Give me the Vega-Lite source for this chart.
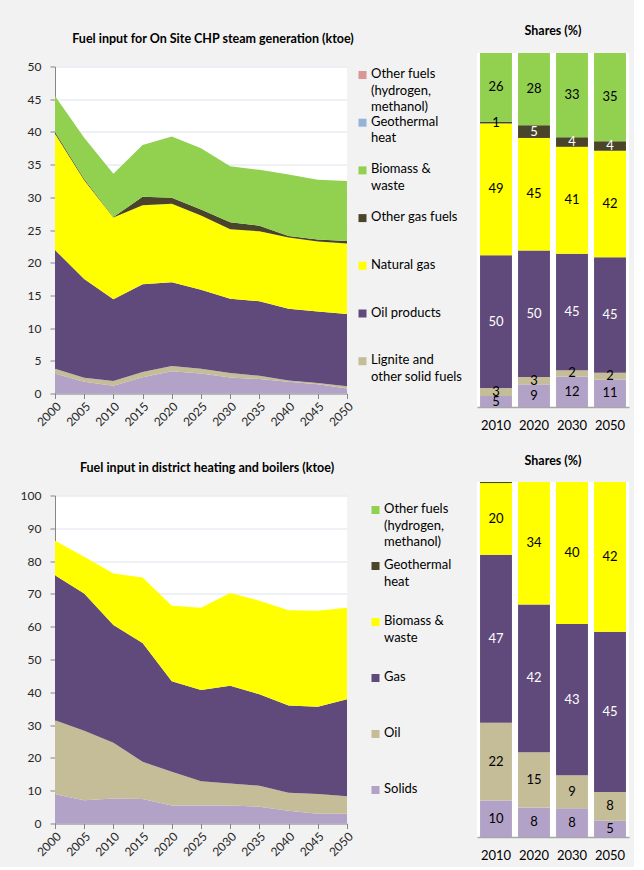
{
  "$schema": "https://vega.github.io/schema/vega-lite/v6.json",
  "background": "#f2f2f2",
  "padding": {"left": 20, "top": 24, "right": 5, "bottom": 5},
  "config": {
    "font": "Lato",
    "view": {"stroke": null, "fill": "white"},
    "axis": {"labelFont": "Lato", "labelColor": "#262626", "domainColor": "#868686", "tickColor": "#868686", "gridColor": "#dce4ee", "labelFontSize": 12},
    "title": {"font": "Lato", "fontSize": 12.5, "fontWeight": "bold", "color": "#000"},
    "legend": {"labelFont": "Lato", "labelFontSize": 13, "labelColor": "#000", "symbolType": "square", "symbolSize": 64, "symbolStrokeWidth": 0, "labelLimit": 200, "gridAlign": "all", "labelBaseline": "top", "labelOffset": 2}
  },
  "datasets": {
    "chp": [
      {"year":2000,"s":"Hard coal","v":3.05,"k":1},{"year":2000,"s":"Lignite and other solid fuels","v":0.75,"k":2},{"year":2000,"s":"Oil products","v":18.15,"k":3},{"year":2000,"s":"Natural gas","v":17.75,"k":4},{"year":2000,"s":"Other gas fuels","v":0.3,"k":5},{"year":2000,"s":"Biomass & waste","v":5.5,"k":6},
      {"year":2005,"s":"Hard coal","v":1.8,"k":1},{"year":2005,"s":"Lignite and other solid fuels","v":0.6,"k":2},{"year":2005,"s":"Oil products","v":15.1,"k":3},{"year":2005,"s":"Natural gas","v":15.1,"k":4},{"year":2005,"s":"Other gas fuels","v":0.2,"k":5},{"year":2005,"s":"Biomass & waste","v":6.3,"k":6},
      {"year":2010,"s":"Hard coal","v":1.2,"k":1},{"year":2010,"s":"Lignite and other solid fuels","v":0.7,"k":2},{"year":2010,"s":"Oil products","v":12.5,"k":3},{"year":2010,"s":"Natural gas","v":12.5,"k":4},{"year":2010,"s":"Other gas fuels","v":0.1,"k":5},{"year":2010,"s":"Biomass & waste","v":6.6,"k":6},
      {"year":2015,"s":"Hard coal","v":2.5,"k":1},{"year":2015,"s":"Lignite and other solid fuels","v":0.8,"k":2},{"year":2015,"s":"Oil products","v":13.4,"k":3},{"year":2015,"s":"Natural gas","v":12.1,"k":4},{"year":2015,"s":"Other gas fuels","v":1.3,"k":5},{"year":2015,"s":"Biomass & waste","v":7.9,"k":6},
      {"year":2020,"s":"Hard coal","v":3.4,"k":1},{"year":2020,"s":"Lignite and other solid fuels","v":0.8,"k":2},{"year":2020,"s":"Oil products","v":12.8,"k":3},{"year":2020,"s":"Natural gas","v":12.0,"k":4},{"year":2020,"s":"Other gas fuels","v":0.95,"k":5},{"year":2020,"s":"Biomass & waste","v":9.35,"k":6},
      {"year":2025,"s":"Hard coal","v":3.05,"k":1},{"year":2025,"s":"Lignite and other solid fuels","v":0.75,"k":2},{"year":2025,"s":"Oil products","v":12.05,"k":3},{"year":2025,"s":"Natural gas","v":11.35,"k":4},{"year":2025,"s":"Other gas fuels","v":0.95,"k":5},{"year":2025,"s":"Biomass & waste","v":9.35,"k":6},
      {"year":2030,"s":"Hard coal","v":2.45,"k":1},{"year":2030,"s":"Lignite and other solid fuels","v":0.7,"k":2},{"year":2030,"s":"Oil products","v":11.35,"k":3},{"year":2030,"s":"Natural gas","v":10.6,"k":4},{"year":2030,"s":"Other gas fuels","v":1.1,"k":5},{"year":2030,"s":"Biomass & waste","v":8.55,"k":6},
      {"year":2035,"s":"Hard coal","v":2.2,"k":1},{"year":2035,"s":"Lignite and other solid fuels","v":0.5,"k":2},{"year":2035,"s":"Oil products","v":11.4,"k":3},{"year":2035,"s":"Natural gas","v":10.7,"k":4},{"year":2035,"s":"Other gas fuels","v":0.85,"k":5},{"year":2035,"s":"Biomass & waste","v":8.55,"k":6},
      {"year":2040,"s":"Hard coal","v":1.8,"k":1},{"year":2040,"s":"Lignite and other solid fuels","v":0.2,"k":2},{"year":2040,"s":"Oil products","v":10.95,"k":3},{"year":2040,"s":"Natural gas","v":10.9,"k":4},{"year":2040,"s":"Other gas fuels","v":0.25,"k":5},{"year":2040,"s":"Biomass & waste","v":9.4,"k":6},
      {"year":2045,"s":"Hard coal","v":1.4,"k":1},{"year":2045,"s":"Lignite and other solid fuels","v":0.2,"k":2},{"year":2045,"s":"Oil products","v":10.95,"k":3},{"year":2045,"s":"Natural gas","v":10.7,"k":4},{"year":2045,"s":"Other gas fuels","v":0.3,"k":5},{"year":2045,"s":"Biomass & waste","v":9.15,"k":6},
      {"year":2050,"s":"Hard coal","v":0.75,"k":1},{"year":2050,"s":"Lignite and other solid fuels","v":0.35,"k":2},{"year":2050,"s":"Oil products","v":11.05,"k":3},{"year":2050,"s":"Natural gas","v":10.8,"k":4},{"year":2050,"s":"Other gas fuels","v":0.35,"k":5},{"year":2050,"s":"Biomass & waste","v":9.2,"k":6}
    ],
    "dh": [
      {"year":2000,"s":"Solids","v":8.9,"k":1},{"year":2000,"s":"Oil","v":22.6,"k":2},{"year":2000,"s":"Gas","v":44.2,"k":3},{"year":2000,"s":"Biomass & waste","v":10.5,"k":4},
      {"year":2005,"s":"Solids","v":7.1,"k":1},{"year":2005,"s":"Oil","v":21.2,"k":2},{"year":2005,"s":"Gas","v":41.8,"k":3},{"year":2005,"s":"Biomass & waste","v":11.2,"k":4},
      {"year":2010,"s":"Solids","v":7.6,"k":1},{"year":2010,"s":"Oil","v":17.0,"k":2},{"year":2010,"s":"Gas","v":35.9,"k":3},{"year":2010,"s":"Biomass & waste","v":15.7,"k":4},
      {"year":2015,"s":"Solids","v":7.5,"k":1},{"year":2015,"s":"Oil","v":11.3,"k":2},{"year":2015,"s":"Gas","v":36.2,"k":3},{"year":2015,"s":"Biomass & waste","v":20.0,"k":4},
      {"year":2020,"s":"Solids","v":5.5,"k":1},{"year":2020,"s":"Oil","v":10.25,"k":2},{"year":2020,"s":"Gas","v":27.65,"k":3},{"year":2020,"s":"Biomass & waste","v":23.0,"k":4},
      {"year":2025,"s":"Solids","v":5.5,"k":1},{"year":2025,"s":"Oil","v":7.4,"k":2},{"year":2025,"s":"Gas","v":27.8,"k":3},{"year":2025,"s":"Biomass & waste","v":25.1,"k":4},
      {"year":2030,"s":"Solids","v":5.5,"k":1},{"year":2030,"s":"Oil","v":6.7,"k":2},{"year":2030,"s":"Gas","v":29.8,"k":3},{"year":2030,"s":"Biomass & waste","v":28.3,"k":4},
      {"year":2035,"s":"Solids","v":5.1,"k":1},{"year":2035,"s":"Oil","v":6.4,"k":2},{"year":2035,"s":"Gas","v":27.9,"k":3},{"year":2035,"s":"Biomass & waste","v":28.5,"k":4},
      {"year":2040,"s":"Solids","v":3.9,"k":1},{"year":2040,"s":"Oil","v":5.45,"k":2},{"year":2040,"s":"Gas","v":26.65,"k":3},{"year":2040,"s":"Biomass & waste","v":29.05,"k":4},
      {"year":2045,"s":"Solids","v":3.0,"k":1},{"year":2045,"s":"Oil","v":6.0,"k":2},{"year":2045,"s":"Gas","v":26.6,"k":3},{"year":2045,"s":"Biomass & waste","v":29.25,"k":4},
      {"year":2050,"s":"Solids","v":3.0,"k":1},{"year":2050,"s":"Oil","v":5.3,"k":2},{"year":2050,"s":"Gas","v":29.6,"k":3},{"year":2050,"s":"Biomass & waste","v":27.9,"k":4}
    ],
    "chpShares": [
      {"year":"2010","s":"Hard coal","v":3.1,"lab":5,"k":1},{"year":"2010","s":"Lignite and other solid fuels","v":2.3,"lab":3,"k":2},{"year":"2010","s":"Oil products","v":37.5,"lab":50,"k":3},{"year":"2010","s":"Natural gas","v":37.2,"lab":49,"k":4},{"year":"2010","s":"Other gas fuels","v":0.5,"lab":1,"k":5},{"year":"2010","s":"Biomass & waste","v":19.4,"lab":26,"k":6},
      {"year":"2020","s":"Hard coal","v":6.4,"lab":9,"k":1},{"year":"2020","s":"Lignite and other solid fuels","v":2.1,"lab":3,"k":2},{"year":"2020","s":"Oil products","v":35.7,"lab":50,"k":3},{"year":"2020","s":"Natural gas","v":31.8,"lab":45,"k":4},{"year":"2020","s":"Other gas fuels","v":3.6,"lab":5,"k":5},{"year":"2020","s":"Biomass & waste","v":20.4,"lab":28,"k":6},
      {"year":"2030","s":"Hard coal","v":8.6,"lab":12,"k":1},{"year":"2030","s":"Lignite and other solid fuels","v":1.8,"lab":2,"k":2},{"year":"2030","s":"Oil products","v":32.9,"lab":45,"k":3},{"year":"2030","s":"Natural gas","v":30.2,"lab":41,"k":4},{"year":"2030","s":"Other gas fuels","v":2.7,"lab":4,"k":5},{"year":"2030","s":"Biomass & waste","v":23.8,"lab":33,"k":6},
      {"year":"2050","s":"Hard coal","v":7.8,"lab":11,"k":1},{"year":"2050","s":"Lignite and other solid fuels","v":1.9,"lab":2,"k":2},{"year":"2050","s":"Oil products","v":32.6,"lab":45,"k":3},{"year":"2050","s":"Natural gas","v":30.1,"lab":42,"k":4},{"year":"2050","s":"Other gas fuels","v":2.7,"lab":4,"k":5},{"year":"2050","s":"Biomass & waste","v":24.9,"lab":35,"k":6}
    ],
    "dhShares": [
      {"year":"2010","s":"Solids","v":10.3,"lab":10,"k":1},{"year":"2010","s":"Oil","v":21.9,"lab":22,"k":2},{"year":"2010","s":"Gas","v":47.3,"lab":47,"k":3},{"year":"2010","s":"Biomass & waste","v":20.2,"lab":20,"k":4},{"year":"2010","s":"Geothermal heat","v":0.3,"lab":null,"k":5},
      {"year":"2020","s":"Solids","v":8.3,"lab":8,"k":1},{"year":"2020","s":"Oil","v":15.6,"lab":15,"k":2},{"year":"2020","s":"Gas","v":41.6,"lab":42,"k":3},{"year":"2020","s":"Biomass & waste","v":34.5,"lab":34,"k":4},
      {"year":"2030","s":"Solids","v":8.1,"lab":8,"k":1},{"year":"2030","s":"Oil","v":9.3,"lab":9,"k":2},{"year":"2030","s":"Gas","v":42.6,"lab":43,"k":3},{"year":"2030","s":"Biomass & waste","v":40.0,"lab":40,"k":4},
      {"year":"2050","s":"Solids","v":4.6,"lab":5,"k":1},{"year":"2050","s":"Oil","v":8.1,"lab":8,"k":2},{"year":"2050","s":"Gas","v":45.1,"lab":45,"k":3},{"year":"2050","s":"Biomass & waste","v":42.2,"lab":42,"k":4}
    ]
  },
  "spacing": 22,
  "resolve": {"scale": {"color": "independent"}, "legend": {"color": "independent"}},
  "vconcat": [
    {
      "bounds": "flush",
      "center": true,
      "spacing": 130,
      "resolve": {"scale": {"color": "independent"}, "legend": {"color": "independent"}},
      "hconcat": [
        {
          "width": 292, "height": 327,
          "title": {"text": "Fuel input for On Site CHP steam generation (ktoe)", "offset": 15, "dx": 12},
          "data": {"name": "chp"},
          "mark": {"type": "area"},
          "encoding": {
            "x": {"field": "year", "type": "quantitative", "scale": {"domain": [2000, 2050], "nice": false, "zero": false},
                  "axis": {"title": null, "grid": false, "values": [2000,2005,2010,2015,2020,2025,2030,2035,2040,2045,2050], "format": "d", "labelAngle": -45, "tickSize": 5, "labelPadding": 2}},
            "y": {"field": "v", "type": "quantitative", "stack": "zero", "scale": {"domain": [0, 50], "nice": false},
                  "axis": {"title": null, "grid": true, "values": [0,5,10,15,20,25,30,35,40,45,50], "tickSize": 5, "labelPadding": 9}},
            "order": {"field": "k", "type": "quantitative"},
            "color": {"field": "s", "type": "nominal",
                      "scale": {"domain": ["Other fuels (hydrogen, methanol)", "Geothermal heat", "Biomass & waste", "Other gas fuels", "Natural gas", "Oil products", "Lignite and other solid fuels", "Hard coal"],
                                "range": ["#d99694", "#95b3d7", "#92d050", "#4a452a", "#ffff00", "#604a7b", "#c4bd97", "#b3a2c7"]},
                      "legend": {"title": null, "orient": "none", "legendX": 301, "legendY": 2, "rowPadding": 0.7,
                                 "values": ["Other fuels (hydrogen, methanol)", "Geothermal heat", "Biomass & waste", "Other gas fuels", "Natural gas", "Oil products", "Lignite and other solid fuels"],
                                 "labelExpr": "datum.label == 'Other fuels (hydrogen, methanol)' ? ['Other fuels', '(hydrogen,', 'methanol)'] : datum.label == 'Geothermal heat' ? ['Geothermal', 'heat'] : datum.label == 'Biomass & waste' ? ['Biomass &', 'waste'] : datum.label == 'Lignite and other solid fuels' ? ['Lignite and', 'other solid fuels'] : datum.label",
                                 "encode": {"labels": {"update": {"lineHeight": {"value": 16.5}, "dy": {"value": -7}}}}}}
          }
        },
        {
          "width": 152, "height": 354,
          "title": {"text": "Shares (%)", "offset": 16},
          "data": {"name": "chpShares"},
          "encoding": {
            "x": {"field": "year", "type": "ordinal", "scale": {"paddingInner": 0.16, "paddingOuter": 0.08},
                  "axis": {"title": null, "labelAngle": 0, "ticks": false, "labelPadding": 12, "labelFontSize": 13, "labelColor": "#000", "domainColor": "#a6a6a6", "domainWidth": 1.5}}
          },
          "layer": [
            {"mark": {"type": "bar"},
             "encoding": {
               "y": {"field": "v", "type": "quantitative", "stack": "zero", "scale": {"domain": [0, 100], "nice": false}, "axis": null},
               "order": {"field": "k", "type": "quantitative"},
               "color": {"field": "s", "type": "nominal",
                         "scale": {"domain": ["Other fuels (hydrogen, methanol)", "Geothermal heat", "Biomass & waste", "Other gas fuels", "Natural gas", "Oil products", "Lignite and other solid fuels", "Hard coal"],
                                   "range": ["#d99694", "#95b3d7", "#92d050", "#4a452a", "#ffff00", "#604a7b", "#c4bd97", "#b3a2c7"]},
                         "legend": null}}},
            {"transform": [{"filter": "isValid(datum.lab)"}],
             "mark": {"type": "text", "fontSize": 13},
             "encoding": {
               "y": {"field": "v", "type": "quantitative", "stack": "zero", "bandPosition": 0.5},
               "detail": {"field": "s"},
               "order": {"field": "k", "type": "quantitative"},
               "text": {"field": "lab"},
               "color": {"condition": {"test": "datum.s === 'Oil products' || (datum.s === 'Other gas fuels' && datum.v > 2)", "value": "white"}, "value": "black"}}}
          ]
        }
      ]
    },
    {
      "bounds": "flush",
      "center": true,
      "spacing": 130,
      "resolve": {"scale": {"color": "independent"}, "legend": {"color": "independent"}},
      "hconcat": [
        {
          "width": 292, "height": 328,
          "title": {"text": "Fuel input in district heating and boilers (ktoe)", "offset": 15, "dx": 6},
          "data": {"name": "dh"},
          "mark": {"type": "area"},
          "encoding": {
            "x": {"field": "year", "type": "quantitative", "scale": {"domain": [2000, 2050], "nice": false, "zero": false},
                  "axis": {"title": null, "grid": false, "values": [2000,2005,2010,2015,2020,2025,2030,2035,2040,2045,2050], "format": "d", "labelAngle": -45, "tickSize": 5, "labelPadding": 2}},
            "y": {"field": "v", "type": "quantitative", "stack": "zero", "scale": {"domain": [0, 100], "nice": false},
                  "axis": {"title": null, "grid": true, "values": [0,10,20,30,40,50,60,70,80,90,100], "tickSize": 5, "labelPadding": 9}},
            "order": {"field": "k", "type": "quantitative"},
            "color": {"field": "s", "type": "nominal",
                      "scale": {"domain": ["Other fuels (hydrogen, methanol)", "Geothermal heat", "Biomass & waste", "Gas", "Oil", "Solids"],
                                "range": ["#92d050", "#4a452a", "#ffff00", "#604a7b", "#c4bd97", "#b3a2c7"]},
                      "legend": {"title": null, "orient": "none", "legendX": 314, "legendY": 8, "rowPadding": 9,
                                 "labelExpr": "datum.label == 'Other fuels (hydrogen, methanol)' ? ['Other fuels', '(hydrogen,', 'methanol)'] : datum.label == 'Geothermal heat' ? ['Geothermal', 'heat'] : datum.label == 'Biomass & waste' ? ['Biomass &', 'waste'] : datum.label",
                                 "encode": {"labels": {"update": {"lineHeight": {"value": 16.5}, "dy": {"value": -7}}}}}}
          }
        },
        {
          "width": 152, "height": 355,
          "title": {"text": "Shares (%)", "offset": 15},
          "data": {"name": "dhShares"},
          "encoding": {
            "x": {"field": "year", "type": "ordinal", "scale": {"paddingInner": 0.16, "paddingOuter": 0.08},
                  "axis": {"title": null, "labelAngle": 0, "ticks": false, "labelPadding": 12, "labelFontSize": 13, "labelColor": "#000", "domainColor": "#a6a6a6", "domainWidth": 1.5}}
          },
          "layer": [
            {"mark": {"type": "bar"},
             "encoding": {
               "y": {"field": "v", "type": "quantitative", "stack": "zero", "scale": {"domain": [0, 100], "nice": false}, "axis": null},
               "order": {"field": "k", "type": "quantitative"},
               "color": {"field": "s", "type": "nominal",
                         "scale": {"domain": ["Other fuels (hydrogen, methanol)", "Geothermal heat", "Biomass & waste", "Gas", "Oil", "Solids"],
                                   "range": ["#92d050", "#4a452a", "#ffff00", "#604a7b", "#c4bd97", "#b3a2c7"]},
                         "legend": null}}},
            {"transform": [{"filter": "isValid(datum.lab)"}],
             "mark": {"type": "text", "fontSize": 13},
             "encoding": {
               "y": {"field": "v", "type": "quantitative", "stack": "zero", "bandPosition": 0.5},
               "detail": {"field": "s"},
               "order": {"field": "k", "type": "quantitative"},
               "text": {"field": "lab"},
               "color": {"condition": {"test": "datum.s === 'Gas'", "value": "white"}, "value": "black"}}}
          ]
        }
      ]
    }
  ]
}
